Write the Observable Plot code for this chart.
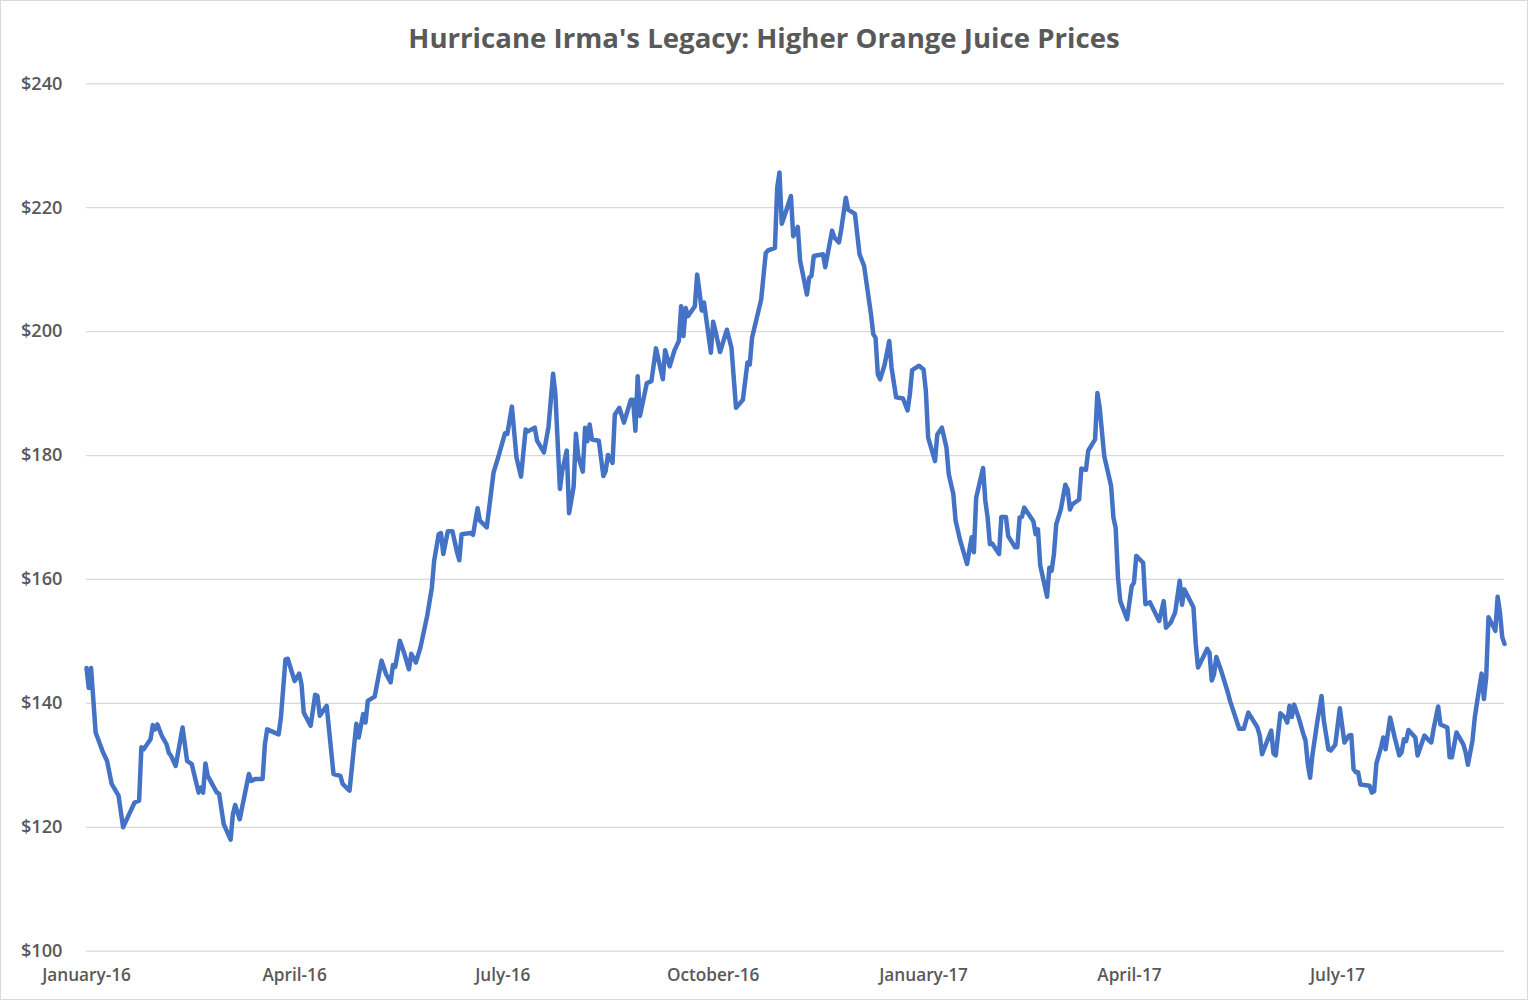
<!DOCTYPE html>
<html>
<head>
<meta charset="utf-8">
<script src="https://cdn.jsdelivr.net/npm/d3@7"></script>
<script src="https://cdn.jsdelivr.net/npm/@observablehq/plot@0.6"></script>
<style>
  html, body { margin: 0; padding: 0; background: #fff; }
  #chart { position: relative; width: 1528px; height: 1000px; overflow: hidden; background: #fff; font-family: "Open Sans", sans-serif; }
  #frame { position: absolute; left: 0; top: 0; width: 1526px; height: 998px; border: 1px solid #d9d9d9; pointer-events: none; }
  #title { position: absolute; left: 0; top: 22px; width: 1528px; text-align: center; font-size: 27.6px; line-height: 30px; font-weight: 700; color: #595959; }
  #plot { position: absolute; left: 0; top: 60px; }
  #plot svg g[aria-label="y-axis tick label"] { font-size: 18.2px; }
  #plot svg g[aria-label="x-axis tick label"] { font-size: 17.2px; }
</style>
</head>
<body>
<div id="chart">
  <div id="title">Hurricane Irma's Legacy: Higher Orange Juice Prices</div>
  <div id="plot"></div>
  <div id="frame"></div>
</div>
<script>
const dates = [
"2016-01-04","2016-01-05","2016-01-06","2016-01-08","2016-01-11","2016-01-13","2016-01-15","2016-01-18","2016-01-20","2016-01-22",
"2016-01-25","2016-01-27","2016-01-28","2016-01-29","2016-02-01","2016-02-02","2016-02-03","2016-02-04","2016-02-06","2016-02-08",
"2016-02-09","2016-02-10","2016-02-12","2016-02-15","2016-02-17","2016-02-19","2016-02-22","2016-02-23","2016-02-24","2016-02-25",
"2016-02-26","2016-03-01","2016-03-02","2016-03-04","2016-03-07","2016-03-08","2016-03-09","2016-03-11","2016-03-15","2016-03-16",
"2016-03-18","2016-03-21","2016-03-22","2016-03-23","2016-03-28","2016-03-29","2016-03-31","2016-04-01","2016-04-04","2016-04-06",
"2016-04-07","2016-04-08","2016-04-11","2016-04-13","2016-04-14","2016-04-15","2016-04-18","2016-04-21","2016-04-24","2016-04-25",
"2016-04-28","2016-05-01","2016-05-02","2016-05-04","2016-05-05","2016-05-06","2016-05-09","2016-05-12","2016-05-14","2016-05-16",
"2016-05-17","2016-05-18","2016-05-20","2016-05-22","2016-05-24","2016-05-25","2016-05-27","2016-05-29","2016-06-01","2016-06-03",
"2016-06-04","2016-06-06","2016-06-07","2016-06-08","2016-06-10","2016-06-12","2016-06-14","2016-06-15","2016-06-16","2016-06-20",
"2016-06-21","2016-06-23","2016-06-24","2016-06-27","2016-06-30","2016-07-02","2016-07-05","2016-07-06","2016-07-08","2016-07-10",
"2016-07-12","2016-07-14","2016-07-15","2016-07-18","2016-07-19","2016-07-22","2016-07-24","2016-07-26","2016-07-27","2016-07-29",
"2016-07-30","2016-08-01","2016-08-02","2016-08-04","2016-08-05","2016-08-06","2016-08-08","2016-08-09","2016-08-10","2016-08-11",
"2016-08-12","2016-08-15","2016-08-17","2016-08-18","2016-08-19","2016-08-21","2016-08-22","2016-08-24","2016-08-26","2016-08-29",
"2016-08-30","2016-08-31","2016-09-01","2016-09-02","2016-09-05","2016-09-07","2016-09-09","2016-09-12","2016-09-13","2016-09-15",
"2016-09-17","2016-09-19","2016-09-20","2016-09-21","2016-09-22","2016-09-23","2016-09-26","2016-09-27","2016-09-28","2016-09-29",
"2016-09-30","2016-10-03","2016-10-04","2016-10-05","2016-10-07","2016-10-10","2016-10-12","2016-10-14","2016-10-17","2016-10-19",
"2016-10-20","2016-10-21","2016-10-25","2016-10-27","2016-10-28","2016-10-31","2016-11-01","2016-11-02","2016-11-03","2016-11-05",
"2016-11-07","2016-11-08","2016-11-10","2016-11-11","2016-11-14","2016-11-15","2016-11-16","2016-11-17","2016-11-21","2016-11-22",
"2016-11-25","2016-11-26","2016-11-28","2016-11-29","2016-12-01","2016-12-02","2016-12-05","2016-12-07","2016-12-09","2016-12-12",
"2016-12-13","2016-12-14","2016-12-15","2016-12-16","2016-12-18","2016-12-20","2016-12-21","2016-12-23","2016-12-26","2016-12-28",
"2016-12-29","2016-12-30","2017-01-02","2017-01-04","2017-01-05","2017-01-06","2017-01-09","2017-01-10","2017-01-12","2017-01-14",
"2017-01-15","2017-01-17","2017-01-18","2017-01-20","2017-01-23","2017-01-25","2017-01-26","2017-01-27","2017-01-30","2017-01-31",
"2017-02-01","2017-02-02","2017-02-03","2017-02-06","2017-02-07","2017-02-09","2017-02-10","2017-02-13","2017-02-14","2017-02-15",
"2017-02-16","2017-02-17","2017-02-21","2017-02-22","2017-02-23","2017-02-24","2017-02-27","2017-02-28","2017-03-01","2017-03-02",
"2017-03-03","2017-03-05","2017-03-07","2017-03-08","2017-03-09","2017-03-10","2017-03-13","2017-03-14","2017-03-16","2017-03-17",
"2017-03-20","2017-03-21","2017-03-22","2017-03-24","2017-03-27","2017-03-28","2017-03-29","2017-03-30","2017-03-31","2017-04-03",
"2017-04-05","2017-04-06","2017-04-07","2017-04-10","2017-04-11","2017-04-13","2017-04-17","2017-04-19","2017-04-20","2017-04-22",
"2017-04-24","2017-04-26","2017-04-27","2017-04-28","2017-05-02","2017-05-03","2017-05-04","2017-05-06","2017-05-08","2017-05-09",
"2017-05-10","2017-05-11","2017-05-12","2017-05-14","2017-05-17","2017-05-18","2017-05-22","2017-05-24","2017-05-26","2017-05-30",
"2017-05-31","2017-06-01","2017-06-03","2017-06-05","2017-06-06","2017-06-07","2017-06-09","2017-06-11","2017-06-12","2017-06-13",
"2017-06-14","2017-06-15","2017-06-17","2017-06-19","2017-06-20","2017-06-21","2017-06-22","2017-06-23","2017-06-25","2017-06-27",
"2017-06-28","2017-06-30","2017-07-01","2017-07-03","2017-07-05","2017-07-07","2017-07-09","2017-07-10","2017-07-11","2017-07-12",
"2017-07-13","2017-07-14","2017-07-18","2017-07-19","2017-07-20","2017-07-21","2017-07-23","2017-07-24","2017-07-25","2017-07-27",
"2017-07-29","2017-07-31","2017-08-01","2017-08-02","2017-08-03","2017-08-04","2017-08-07","2017-08-08","2017-08-11","2017-08-13",
"2017-08-14","2017-08-15","2017-08-17","2017-08-18","2017-08-21","2017-08-22","2017-08-23","2017-08-25","2017-08-28","2017-08-29",
"2017-08-30","2017-09-01","2017-09-02","2017-09-03","2017-09-05","2017-09-06","2017-09-07","2017-09-08","2017-09-10","2017-09-11",
"2017-09-12","2017-09-13","2017-09-14","2017-09-15"
];
const prices = [
145.7,142.5,145.7,135.3,132.3,130.7,127.0,125.1,120.0,121.6,
124.0,124.3,132.9,132.6,134.2,136.5,135.8,136.6,134.7,133.4,
132.0,131.5,129.9,136.1,130.7,130.2,125.6,126.4,125.6,130.3,
128.3,125.6,125.4,120.5,118.0,122.1,123.6,121.3,128.6,127.5,
127.8,127.8,133.4,135.8,135.0,137.7,147.1,147.2,143.6,144.8,
143.1,138.5,136.4,141.4,141.2,138.0,139.6,128.6,128.3,127.0,
125.9,136.7,134.5,138.3,136.9,140.4,141.1,146.9,144.7,143.4,
146.2,145.9,150.1,148.0,145.5,148.0,146.6,149.0,154.2,158.7,
163.0,167.3,167.5,164.1,167.8,167.8,164.4,163.1,167.3,167.5,
167.2,171.5,169.5,168.4,177.3,179.7,183.6,183.5,187.9,179.7,
176.6,184.2,183.9,184.5,182.4,180.5,184.6,193.2,190.0,174.6,
177.5,180.8,170.7,175.0,183.5,179.9,177.4,184.5,182.3,185.0,
182.6,182.4,176.7,177.5,180.1,178.8,186.6,187.7,185.3,189.0,
189.0,184.0,192.8,186.4,191.7,192.0,197.3,192.3,197.0,194.4,
196.9,198.5,204.1,199.3,203.8,202.5,204.1,209.2,206.5,203.4,
204.7,196.6,201.6,200.1,196.7,200.3,197.4,187.7,189.0,195.0,
194.7,199.0,205.2,212.7,213.1,213.5,223.2,225.7,217.4,219.6,
221.9,215.4,216.9,211.5,206.0,208.7,209.0,212.2,212.5,210.4,
216.3,215.2,214.4,216.5,221.6,219.7,219.0,212.5,210.6,202.8,
199.6,199.0,193.1,192.3,194.7,198.5,194.2,189.4,189.2,187.3,
189.9,193.8,194.5,193.9,190.4,182.9,179.1,183.4,184.5,181.3,
177.0,173.8,169.5,166.3,162.5,166.8,164.4,173.2,178.0,172.7,
170.0,165.7,165.8,164.1,170.1,170.1,167.0,165.2,165.2,170.0,
170.1,171.6,169.4,167.3,168.1,162.3,157.2,161.9,161.4,164.1,
168.9,171.3,175.3,174.5,171.3,172.1,172.9,177.9,177.7,180.8,
182.6,190.1,187.7,179.9,175.1,170.0,168.3,160.3,156.5,153.6,
158.9,159.5,163.8,162.7,156.0,156.3,153.3,156.5,152.2,153.0,
154.7,159.8,155.9,158.4,155.5,149.6,145.8,147.3,148.8,148.2,
143.7,144.7,147.5,145.4,141.8,140.4,135.9,135.9,138.5,136.1,
134.8,131.8,133.7,135.6,131.9,131.6,138.4,137.7,136.9,139.6,
137.8,139.8,137.7,135.1,134.0,130.2,128.0,131.6,136.7,141.2,
137.2,132.6,132.4,133.3,139.2,133.7,134.8,134.9,129.4,128.9,
128.9,126.9,126.7,125.6,125.8,130.3,132.9,134.5,132.6,137.7,
134.5,131.6,132.1,134.2,133.9,135.7,134.5,131.6,134.8,134.0,
133.7,135.9,139.5,136.6,136.1,131.3,131.3,135.3,133.4,132.1,
130.1,134.0,137.7,140.2,144.8,140.7,144.2,153.9,152.5,151.7,
157.2,154.7,150.7,149.6
];
const yTicks = [100, 120, 140, 160, 180, 200, 220, 240];
const xTicks = ["2016-01-04","2016-04-04","2016-07-04","2016-10-04","2017-01-04","2017-04-04","2017-07-04"];
const xDomain = ["2016-01-04", "2017-09-15"];

const data = dates.map((d, i) => ({date: new Date(d), price: prices[i]}));
const fmtMonth = d3.utcFormat("%B-%y");

const plot = Plot.plot({
  width: 1528,
  height: 940,
  marginLeft: 86,
  marginRight: 24,
  marginTop: 23.3,
  marginBottom: 49.3,
  style: {fontFamily: "'Open Sans', sans-serif", fontSize: "17.5px", fontWeight: 600, color: "#595959", background: "transparent"},
  x: {type: "utc", domain: xDomain.map(d => new Date(d)), label: null},
  y: {domain: [100, 240], label: null},
  marks: [
    Plot.ruleY(yTicks, {stroke: "#d9d9d9", strokeWidth: 1.3}),
    Plot.axisY({ticks: yTicks, tickSize: 0, tickPadding: 24, tickFormat: d => "$" + d, label: null, fill: "#595959"}),
    Plot.axisX({ticks: xTicks.map(d => new Date(d)), tickSize: 0, tickPadding: 18, tickFormat: fmtMonth, label: null, fill: "#595959"}),
    Plot.line(data, {x: "date", y: "price", stroke: "#4472C4", strokeWidth: 4.5, strokeLinejoin: "round", strokeLinecap: "round"})
  ]
});
document.getElementById("plot").appendChild(plot);
</script>
</body>
</html>
